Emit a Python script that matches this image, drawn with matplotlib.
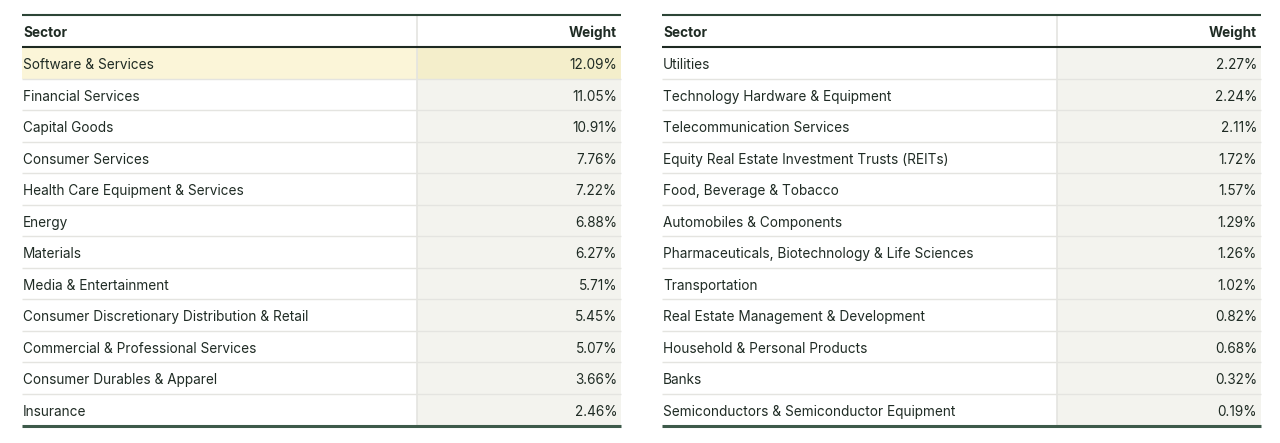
import matplotlib
matplotlib.use("Agg")
import matplotlib.pyplot as plt
from matplotlib.patches import Rectangle

plt.rcParams['font.family'] = ['Inter', 'DejaVu Sans']

header_sector = "Sector"
header_weight = "Weight"

left_sectors = [
    "Software & Services", "Financial Services", "Capital Goods", "Consumer Services",
    "Health Care Equipment & Services", "Energy", "Materials", "Media & Entertainment",
    "Consumer Discretionary Distribution & Retail", "Commercial & Professional Services",
    "Consumer Durables & Apparel", "Insurance",
]
left_weights = [12.09, 11.05, 10.91, 7.76, 7.22, 6.88, 6.27, 5.71, 5.45, 5.07, 3.66, 2.46]

right_sectors = [
    "Utilities", "Technology Hardware & Equipment", "Telecommunication Services",
    "Equity Real Estate Investment Trusts (REITs)", "Food, Beverage & Tobacco",
    "Automobiles & Components", "Pharmaceuticals, Biotechnology & Life Sciences",
    "Transportation", "Real Estate Management & Development",
    "Household & Personal Products", "Banks", "Semiconductors & Semiconductor Equipment",
]
right_weights = [2.27, 2.24, 2.11, 1.72, 1.57, 1.29, 1.26, 1.02, 0.82, 0.68, 0.32, 0.19]

highlight_row = ("left", 0)

W, H = 1280, 443
fig = plt.figure(figsize=(W / 100, H / 100), dpi=100)
ax = fig.add_axes([0, 0, 1, 1])
ax.set_xlim(0, W)
ax.set_ylim(H, 0)
ax.axis('off')

TEXT = "#1f2b24"
DARK = "#2c4536"
GRID = "#e4e4e0"
COLBG = "#f3f3ee"
HL_L = "#fbf5d8"
HL_R = "#f4eecb"
FS = 9.8

top, head_bot, bottom = 15, 47, 425
row_h = (bottom - head_bot) / 12


def draw_table(x0, x1, xdiv, sectors, weights, side):
    ax.add_patch(Rectangle((xdiv, head_bot), x1 - xdiv, bottom - head_bot,
                           facecolor=COLBG, edgecolor='none', zorder=1))
    for i, (s, w) in enumerate(zip(sectors, weights)):
        y0 = head_bot + i * row_h
        yc = y0 + row_h / 2 + 2.5
        if highlight_row == (side, i):
            ax.add_patch(Rectangle((x0, y0), xdiv - x0, row_h, facecolor=HL_L,
                                   edgecolor='none', zorder=1.5))
            ax.add_patch(Rectangle((xdiv, y0), x1 - xdiv, row_h, facecolor=HL_R,
                                   edgecolor='none', zorder=1.5))
        if i > 0:
            ax.plot([x0, x1], [y0, y0], color=GRID, lw=1.0, zorder=2,
                    solid_capstyle='butt')
        ax.text(x0 + 1, yc, s, fontsize=FS, color=TEXT, va='center', ha='left', zorder=3)
        ax.text(x1 - 4, yc, f"{w:.2f}%", fontsize=FS, color=TEXT, va='center',
                ha='right', zorder=3)
    ax.plot([xdiv, xdiv], [top, bottom], color=GRID, lw=1.2, zorder=2)
    yh = (top + head_bot) / 2 + 2
    ax.text(x0 + 1, yh, header_sector, fontsize=FS,
            fontweight='bold', color=TEXT, va='center', ha='left', zorder=3)
    ax.text(x1 - 4, yh, header_weight, fontsize=FS,
            fontweight='bold', color=TEXT, va='center', ha='right', zorder=3)
    ax.plot([x0, x1], [top, top], color=DARK, lw=1.5, zorder=4, solid_capstyle='butt')
    ax.plot([x0, x1], [head_bot, head_bot], color="#1e2a22", lw=1.5, zorder=4,
            solid_capstyle='butt')
    ax.plot([x0, x1], [bottom + 1, bottom + 1], color="#3d5a4a", lw=2.2, zorder=4,
            solid_capstyle='butt')


draw_table(22, 621, 417, left_sectors, left_weights, "left")
draw_table(662, 1261, 1057, right_sectors, right_weights, "right")

fig.savefig("out.png", dpi=100, facecolor='white')
